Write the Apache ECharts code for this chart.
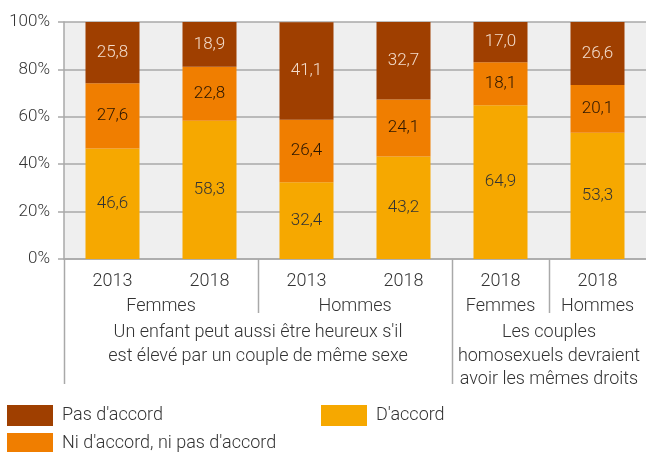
<!DOCTYPE html>
<html>
<head>
<meta charset="utf-8">
<script src="https://cdn.jsdelivr.net/npm/echarts@6/dist/echarts.min.js"></script>
<style>
  html, body { margin: 0; padding: 0; background: #fff; }
  #chart { width: 646px; height: 452px; }
</style>
</head>
<body>
<div id="chart"></div>
<script>
// Survey years per bar
const categories = ['2013', '2018', '2013', '2018', '2018', '2018'];

// Shares (%) per answer, one value per bar
const pasDaccord = [25.8, 18.9, 41.1, 32.7, 17.0, 26.6];
const niDaccordNiPas = [27.6, 22.8, 26.4, 24.1, 18.1, 20.1];
const daccord = [46.6, 58.3, 32.4, 43.2, 64.9, 53.3];

// Y axis ticks
const yTicks = [0, 20, 40, 60, 80, 100];

// Second level: sex, spanning category indices
const sexGroups = [
  { text: 'Femmes', from: 0, to: 1 },
  { text: 'Hommes', from: 2, to: 3 },
  { text: 'Femmes', from: 4, to: 4 },
  { text: 'Hommes', from: 5, to: 5 }
];

// Third level: survey statement
const statements = [
  { text: "Un enfant peut aussi être heureux s'il\nest élevé par un couple de même sexe", from: 0, to: 3 },
  { text: 'Les couples\nhomosexuels devraient\navoir les mêmes droits', from: 4, to: 5 }
];

const NAMES = { pas: "Pas d'accord", ni: "Ni d'accord, ni pas d'accord", ok: "D'accord" };
const COLORS = { pas: '#9f3f00', ni: '#f07e00', ok: '#f6a800' };
const FONT = 'Roboto';
const TEXT = '#333333';
const LINE = '#a9a9a9';

const fmt = p => p.value.toFixed(1).replace('.', ',');

const chart = echarts.init(document.getElementById('chart'), null, { renderer: 'canvas' });

function barSeries(key, data, labelColor) {
  return {
    name: NAMES[key],
    type: 'bar',
    stack: 'total',
    data: data,
    barWidth: 54,
    itemStyle: { color: COLORS[key] },
    label: {
      show: true,
      position: 'inside',
      formatter: fmt,
      color: labelColor,
      fontFamily: FONT,
      fontWeight: 300,
      fontSize: 17
    },
    emphasis: { disabled: true }
  };
}

const legendBase = {
  itemWidth: 46,
  itemHeight: 21,
  itemGap: 0,
  icon: 'rect',
  selectedMode: false,
  textStyle: { fontFamily: FONT, fontWeight: 300, fontSize: 18, color: TEXT, padding: [0, 0, 0, 4] },
  padding: 0
};

chart.setOption({
  animation: false,
  grid: {
    left: 64, right: -1, top: 22, bottom: 193,
    show: true, backgroundColor: '#efefef', borderWidth: 0
  },
  legend: [
    Object.assign({ data: [NAMES.pas], left: 7, top: 405 }, legendBase),
    Object.assign({ data: [NAMES.ok], left: 321, top: 405 }, legendBase),
    Object.assign({ data: [NAMES.ni], left: 7, top: 433 }, legendBase)
  ],
  xAxis: {
    type: 'category',
    data: categories,
    axisLine: { show: true, lineStyle: { color: LINE, width: 1.5 } },
    axisTick: { show: false },
    axisLabel: {
      fontFamily: FONT, fontWeight: 300, fontSize: 18, color: TEXT, margin: 13
    }
  },
  yAxis: {
    type: 'value',
    min: yTicks[0],
    max: yTicks[yTicks.length - 1],
    interval: yTicks[1] - yTicks[0],
    axisLine: { show: true, lineStyle: { color: LINE, width: 1.5 } },
    axisTick: { show: true, length: 6, lineStyle: { color: LINE, width: 1.5 } },
    splitLine: { show: true, lineStyle: { color: LINE, width: 1.5 } },
    axisLabel: {
      formatter: '{value}%',
      fontFamily: FONT, fontWeight: 300, fontSize: 17, color: TEXT, margin: 14
    }
  },
  series: [
    barSeries('ok', daccord, '#333333'),
    barSeries('ni', niDaccordNiPas, '#2a1600'),
    barSeries('pas', pasDaccord, '#f3dccb')
  ]
});

// Multi-level category labels and separators, placed from the x axis scale
function px(i) { return chart.convertToPixel({ xAxisIndex: 0 }, i); }
const band = px(1) - px(0);
const y0 = chart.convertToPixel({ yAxisIndex: 0 }, 0);
const axisX = chart.convertToPixel({ xAxisIndex: 0 }, 0) - band / 2;

const graphics = [];
function vline(x, yTop, yBottom) {
  graphics.push({
    type: 'line', silent: true,
    shape: { x1: Math.round(x) + 0.5, y1: yTop, x2: Math.round(x) + 0.5, y2: yBottom },
    style: { stroke: LINE, lineWidth: 1.5 }
  });
}
function text(str, x, y, lh) {
  graphics.push({
    type: 'text', silent: true,
    style: {
      text: str, x: x, y: y, textAlign: 'center', textVerticalAlign: 'top',
      fontFamily: FONT, fontWeight: 300, fontSize: 18, fill: TEXT, lineHeight: lh
    }
  });
}

sexGroups.forEach(g => text(g.text, (px(g.from) + px(g.to)) / 2, y0 + 36, 22));
statements.forEach(s => text(s.text, (px(s.from) + px(s.to)) / 2, y0 + 62, 23.5));

// axis extension and separators
vline(axisX, y0, y0 + 125);
vline(px(4) - band / 2, y0, y0 + 125);
vline(px(2) - band / 2, y0, y0 + 54);
vline(px(5) - band / 2, y0, y0 + 54);

chart.setOption({ graphic: graphics });
</script>
</body>
</html>
